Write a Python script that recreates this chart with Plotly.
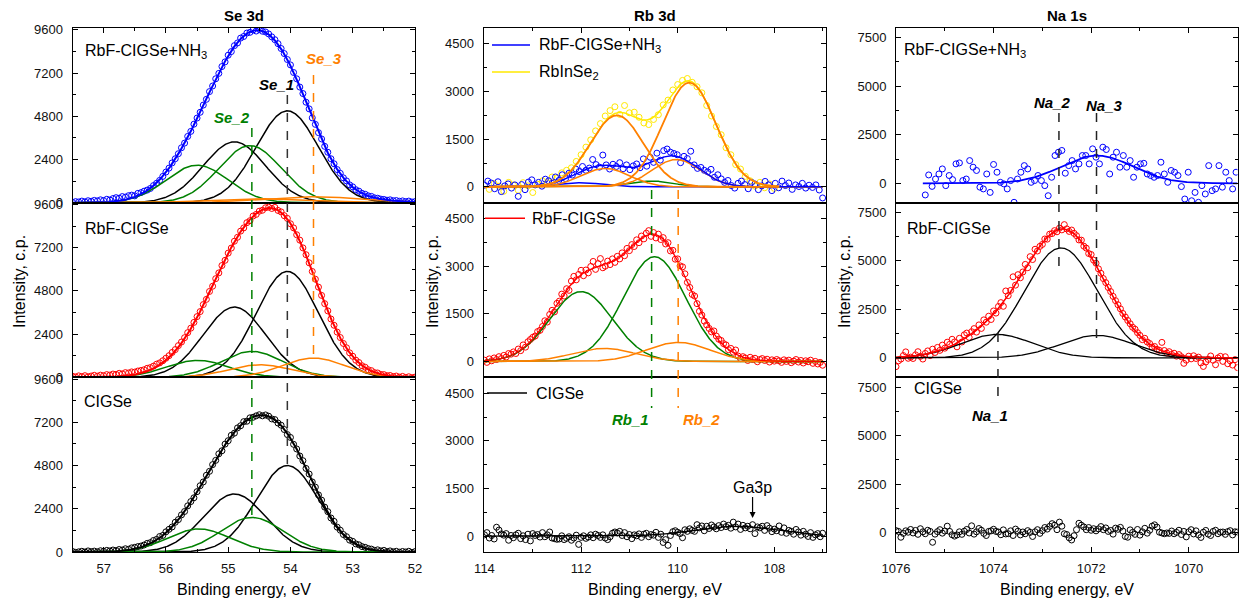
import numpy as np
import plotly.graph_objects as go

# ======================= DATA =======================
# ---- Se 3d : measured counts, binding energy grid 57.50 -> 52.00 eV ----
SE_X_START, SE_X_STEP = 57.5, 0.05
se_nh3_counts = [20, 60, 40, 90, 50, 110, 80, 130, 100, 160,
                 120, 190, 150, 230, 280, 250, 340, 310, 390, 420,
                 380, 520, 560, 640, 700, 790, 950, 1080, 1240, 1460,
                 1700, 1920, 2210, 2440, 2720, 3050, 3310, 3680, 3960, 4360,
                 4700, 5020, 5420, 5740, 6170, 6480, 6880, 7180, 7560, 7820,
                 8190, 8390, 8720, 8870, 9140, 9230, 9420, 9460, 9590, 9530,
                 9620, 9520, 9480, 9370, 9210, 9050, 8830, 8560, 8280, 7950,
                 7650, 7230, 6880, 6420, 6060, 5580, 5210, 4710, 4350, 3890,
                 3540, 3130, 2800, 2440, 2160, 1840, 1630, 1380, 1210, 990,
                 880, 720, 640, 520, 470, 380, 350, 270, 250, 200,
                 180, 140, 160, 110, 120, 80, 100, 60, 90, 40, 60]
se_rbf_counts = [60, 20, 80, 40, 90, 30, 70, 110, 60, 120,
                 90, 150, 120, 180, 160, 220, 190, 260, 240, 300,
                 290, 350, 380, 420, 500, 540, 620, 730, 800, 920,
                 1060, 1200, 1380, 1540, 1760, 1960, 2200, 2480, 2730, 3050,
                 3370, 3650, 4040, 4330, 4770, 5060, 5480, 5800, 6210, 6500,
                 6900, 7180, 7560, 7780, 8120, 8300, 8590, 8700, 8960, 9050,
                 9230, 9280, 9420, 9450, 9380, 9440, 9270, 9190, 8980, 8830,
                 8530, 8300, 7920, 7620, 7190, 6810, 6360, 5880, 5450, 5010,
                 4550, 4090, 3690, 3240, 2890, 2510, 2210, 1880, 1640, 1360,
                 1170, 950, 820, 640, 560, 420, 370, 260, 240, 160,
                 150, 90, 100, 40, 70, 10, 50, -10, 30, -20, 10]
se_cigse_counts = [30, -20, 10, 40, 0, 60, 20, 50, 10, 70,
                   40, 90, 60, 110, 80, 140, 110, 180, 150, 230,
                   260, 300, 330, 390, 480, 520, 640, 700, 860, 920,
                   1120, 1260, 1390, 1650, 1800, 2060, 2250, 2560, 2800, 3010,
                   3350, 3680, 3890, 4260, 4480, 4850, 5090, 5450, 5620, 5990,
                   6180, 6480, 6600, 6890, 7010, 7240, 7260, 7450, 7480, 7560,
                   7620, 7560, 7610, 7540, 7390, 7350, 7160, 7040, 6800, 6520,
                   6360, 5980, 5720, 5330, 5070, 4640, 4330, 3890, 3600, 3170,
                   2880, 2490, 2240, 1890, 1700, 1380, 1210, 970, 850, 660,
                   590, 450, 400, 300, 260, 190, 160, 90, 120, 60,
                   90, 20, 60, 10, 40, -10, 30, 0, 40, -20, 20]
# Se 3d fit components (centre eV, height c.p., sigma eV)
se_nh3_centers = [54.05, 54.90, 54.65, 55.50, 53.63, 54.49]
se_nh3_heights = [5100, 3380, 3170, 2080, 330, 220]
se_nh3_sigmas = [0.5, 0.5, 0.5, 0.5, 0.8, 0.8]
se_rbf_centers = [54.05, 54.90, 54.62, 55.49, 53.63, 54.49]
se_rbf_heights = [5880, 3900, 1440, 940, 1070, 700]
se_rbf_sigmas = [0.5, 0.5, 0.5, 0.5, 0.5, 0.5]
se_cigse_centers = [54.05, 54.90, 54.62, 55.47]
se_cigse_heights = [4800, 3220, 1920, 1280]
se_cigse_sigmas = [0.5, 0.5, 0.5, 0.5]
se_peak_energies = {"Se_1": 54.05, "Se_2": 54.62, "Se_3": 53.63}

# ---- Rb 3d ----
RB_NH3_X_START, RB_NH3_X_STEP = 114.0, 0.07
rb_nh3_counts = [50, 180, 120, -60, 160, -150, 30, 90, -40, 60,
                 -300, 70, -90, 150, 220, 60, 140, 20, 240, 190,
                 110, 310, 200, 380, 260, 430, 370, 560, 480, 640,
                 520, 590, 860, 700, 620, 1000, 690, 560, 710, 640,
                 760, 570, 690, 540, 660, 720, 600, 880, 650, 930,
                 770, 1060, 840, 1140, 1190, 1090, 1050, 1010, 760, 960,
                 890, 1120, 690, 580, 610, 520, 470, 550, 300, 380,
                 250, 140, 200, 40, -40, 110, 180, 70, -60, 140,
                 90, -90, 30, 170, 60, -120, 110, -30, 180, 40,
                 120, -80, 60, 10, 110, -40, 50, -20, 60, -100, -350]
RB_INSE_X_START, RB_INSE_X_STEP = 113.9, 0.1
rb_inse_counts = [-80, 100, 20, -140, 140, 60, -110, 130, 30, -180,
                  80, 190, 130, 310, 270, 440, 520, 600, 800, 1010,
                  1250, 1480, 1760, 1990, 2230, 2400, 2520, 2280, 2560, 2330,
                  2350, 2190, 2010, 1960, 2120, 2270, 2580, 2730, 3050, 3220,
                  3350, 3410, 3290, 3150, 2960, 2560, 2230, 1900, 1640, 1230,
                  1010, 700, 560, 330, 190, 20, 140, -30, 90, -50]
RB_X_START, RB_X_STEP = 114.0, 0.05
rb_rbf_counts = [40, -30, 80, 20, 110, 60, 150, 90, 190, 140,
                 250, 230, 300, 250, 390, 340, 520, 450, 620, 690,
                 760, 800, 940, 980, 1100, 1280, 1240, 1480, 1610, 1560,
                 1830, 1900, 2120, 2060, 2290, 2240, 2530, 2680, 2570, 2740,
                 2870, 2700, 2880, 2790, 2990, 3150, 2900, 3080, 3240, 2950,
                 3000, 3160, 3050, 3230, 3120, 3310, 3230, 3420, 3330, 3560,
                 3490, 3680, 3620, 3830, 3740, 3950, 3860, 4040, 4120, 3940,
                 4060, 3890, 4010, 3840, 3900, 3700, 3740, 3480, 3500, 3220,
                 3230, 3010, 2980, 2760, 2490, 2330, 2110, 2060, 1820, 1580,
                 1460, 1270, 1150, 1040, 930, 960, 800, 700, 660, 560,
                 520, 370, 410, 290, 360, 170, 90, 150, 110, 30,
                 130, 60, 100, -10, 60, 90, 30, 70, -20, 50,
                 10, 60, 20, -30, 50, 0, 40, -40, 10, 60,
                 -20, 30, -50, 20, -10, 40, -60, 0, -80, -30, -120]
rb_cigse_counts = [40, 110, -60, 20, -90, 280, 190, 70, 30, 80,
                   -130, 20, -50, 40, 90, -80, 10, -110, 60, -150,
                   80, 20, 50, -30, 110, -20, 40, 130, -60, -80,
                   -100, -90, 10, -110, -70, -20, -130, -60, 30, -260,
                   -40, 10, -70, -30, 40, -50, 60, 20, -40, 40,
                   -60, -110, -20, 90, 130, 100, 150, 20, 110, -20,
                   50, -80, 40, 10, 70, -40, 60, 90, -20, 50,
                   30, 120, -40, 60, -200, -110, -290, 20, 140, 170,
                   120, 80, -50, 200, 150, 230, 180, 150, 360, 260,
                   320, 170, 310, 240, 350, 290, 230, 330, 270, 380,
                   300, 340, 250, 440, 290, 380, 210, 340, 260, 310,
                   230, 360, 80, 290, 260, 310, 180, 330, 250, 140,
                   220, 170, 320, 120, 260, 90, 180, 150, 60, 210,
                   130, 30, 150, 60, -10, 110, -40, 40, 80, -20, 90]
rb_nh3_centers = [112.0, 110.55, 110.03, 111.50]
rb_nh3_heights = [130, 182, 860, 580]
rb_nh3_sigmas = [0.45, 0.45, 0.5, 0.5]
rb_inse_centers = [109.76, 111.26]
rb_inse_heights = [3280, 2250]
rb_inse_sigmas = [0.55, 0.55]
rb_rbf_centers = [110.48, 112.0, 109.99, 111.52]
rb_rbf_heights = [3300, 2200, 600, 410]
rb_rbf_sigmas = [0.65, 0.65, 0.65, 0.65]
rb_cigse_centers = [108.8]
rb_cigse_heights = [310]
rb_cigse_sigmas = [0.85]
rb_peak_energies = {"Rb_1": 110.54, "Rb_2": 109.99}
ga3p_energy = 108.45

# ---- Na 1s ----
NA_NH3_X_START, NA_NH3_X_STEP = 1075.4, 0.07
na_nh3_counts = [-600, 430, -160, 220, 480, 740, -120, 400, 190, 1000,
                 1050, 140, 220, 1170, 830, 660, -200, -290, 480, -470,
                 970, 570, 50, -30, -290, 140, -980, 220, 570, 910,
                 740, 50, 140, 400, 140, -120, -640, 310, 1430, 1600,
                 1690, 520, 910, 1170, 740, 1000, 1430, 1430, 1000, 1775,
                 1345, 1000, 1860, 1740, 480, 1345, 1600, 830, 1430, 830,
                 1170, 310, 830, 1000, 1030, 480, 400, 310, 400, 1085,
                 480, 50, 660, 570, 400, -170, -810, 570, -900, -470,
                 -980, -120, -550, 910, -380, -290, 910, -200, 570, 140,
                 -290, 570]
NA_X_START, NA_X_STEP = 1076.0, 0.05
na_rbf_counts = [-450, -150, -60, 120, 310, -20, 40, -30, 160, 320,
                 80, -60, 230, 360, 120, 450, 280, 540, 390, 660,
                 500, 810, 700, 960, 820, 570, 1010, 820, 1190, 1280,
                 1060, 1350, 1510, 1330, 1700, 1520, 1960, 1840, 2150, 1980,
                 2420, 2310, 2650, 2850, 2660, 3450, 3210, 3480, 4180, 3750,
                 4290, 4130, 4430, 4820, 4650, 5220, 5070, 5600, 5510, 5750,
                 5850, 6130, 6120, 6380, 6410, 6560, 6500, 6690, 6600, 6870,
                 6650, 6520, 6590, 6420, 6300, 6080, 6070, 5760, 5660, 5380,
                 5330, 5040, 4880, 4590, 4360, 4090, 3880, 3630, 3420, 3170,
                 2950, 2740, 2530, 2290, 2110, 1930, 1760, 1580, 1480, 1300,
                 1160, 940, 1010, 820, 740, 560, 590, 440, 390, 800,
                 380, 250, 320, 180, 240, 90, 170, 60, -280, -120,
                 90, -50, 110, -30, 40, -260, -440, -210, -80, 100,
                 -120, -350, 0, 80, -180, 60, -300, -150, -370, -90, -500]
na_cigse_counts = [100, 60, -240, -40, 90, 20, 160, -20, 110, -90,
                   200, 40, -60, 120, 60, -500, -80, 50, 150, -30,
                   80, 330, 60, -110, -180, -120, 40, -90, 70, 160,
                   -20, 350, -80, 40, 210, 120, -40, -150, 60, 90,
                   170, 60, 30, -110, 140, -70, -60, 90, -150, 180,
                   70, -120, 30, -60, 100, 10, -200, 40, 150, -40,
                   100, 260, 180, 320, 460, 380, 150, 540, 330, -60,
                   -100, -270, -380, -160, 150, 480, 380, 290, 150, 260,
                   120, 200, 90, 190, 310, 150, 240, 60, 110, -80,
                   230, 170, 270, 80, -200, -240, 140, 10, -90, 160,
                   -130, 40, 220, -30, 120, 330, 400, 280, 20, -20,
                   -60, -20, -40, 80, -60, 10, 120, -100, 60, -220,
                   40, 150, -70, 90, -120, -250, 20, 110, -80, -150,
                   60, 120, -60, 20, 30, -90, 50, 100, -120, 40, 30]
na_nh3_centers = [1071.88]
na_nh3_heights = [1430]
na_nh3_sigmas = [0.73]
na_nh3_fit_range = [1075.45, 1069.0]
na_rbf_centers = [1072.62, 1073.93, 1071.88]
na_rbf_heights = [5670, 1210, 1160]
na_rbf_sigmas = [0.75, 0.75, 0.75]
na_peak_energies = {"Na_1": 1073.91, "Na_2": 1072.66, "Na_3": 1071.89}

# ---- axes (tick labels / ranges) ----
col_titles = ["Se 3d", "Rb 3d", "Na 1s"]
x_ranges = [[57.5, 52.0], [114.02, 106.93], [1076.0, 1069.0]]
x_dticks = [1, 2, 2]
y_ranges = [[0, 9700], [-500, 5000], [-1000, 8000]]
y_dticks = [2400, 1500, 2500]

# ======================= STYLE / LAYOUT =======================
W, H = 1244, 608
FONT = "Liberation Sans, Arial, Helvetica, sans-serif"
BLUE, RED, BLACK = "#0000ff", "#ff0000", "#000000"
YELLOW, ORANGE, GREEN = "#ffe800", "#ff8000", "#008000"
se_nh3_colors = [BLACK, BLACK, GREEN, GREEN, ORANGE, ORANGE]
se_rbf_colors = [BLACK, BLACK, GREEN, GREEN, ORANGE, ORANGE]
se_cigse_colors = [BLACK, BLACK, GREEN, GREEN]
rb_nh3_colors = [BLUE, GREEN, ORANGE, ORANGE]
rb_inse_colors = [ORANGE, ORANGE]
rb_rbf_colors = [GREEN, GREEN, ORANGE, ORANGE]
na_rbf_colors = [BLACK, BLACK, BLACK]

COLS_PX = [(72.5, 415.0), (483.5, 826.0), (896.0, 1237.5)]
ROWS_PX = [(28.0, 202.7), (202.7, 377.3), (377.3, 552.0)]


def fx(p):
    return p / W


def fy(p):
    return 1 - p / H


def gauss(x, c, h, s):
    return h * np.exp(-(x - c) ** 2 / (2 * s ** 2))


fig = go.Figure()
layout = dict(width=W, height=H, margin=dict(l=0, r=0, t=0, b=0, pad=0, autoexpand=False),
              paper_bgcolor="white", plot_bgcolor="white", showlegend=False,
              font=dict(family=FONT, size=13, color="#111"))

for c in range(3):
    for r in range(3):
        k = c * 3 + r + 1
        xa = dict(domain=[fx(COLS_PX[c][0]), fx(COLS_PX[c][1])], range=x_ranges[c],
                  anchor=f"y{k}", showline=True, linecolor="black", linewidth=1,
                  mirror=True, showgrid=False, zeroline=False, automargin=False,
                  tick0=0, dtick=x_dticks[c], tickcolor="black")
        if r == 0:
            xa.update(side="top", ticks="inside", ticklen=5, showticklabels=False,
                      minor=dict(ticks="inside", ticklen=3, tick0=0, dtick=x_dticks[c] / 2,
                                 tickcolor="black"))
        elif r == 1:
            xa.update(ticks="", showticklabels=False)
        else:
            xa.update(ticks="inside", ticklen=5, showticklabels=True,
                      tickfont=dict(family=FONT, size=13, color="#111"),
                      ticklabelstandoff=4,
                      minor=dict(ticks="inside", ticklen=3, tick0=0, dtick=x_dticks[c] / 2,
                                 tickcolor="black"))
        ya = dict(domain=[fy(ROWS_PX[r][1]), fy(ROWS_PX[r][0])], range=y_ranges[c],
                  anchor=f"x{k}", showline=True, linecolor="black", linewidth=1,
                  mirror="ticks", ticks="inside", ticklen=5, tickcolor="black",
                  tick0=0, dtick=y_dticks[c], showgrid=False, zeroline=False,
                  automargin=False,
                  tickfont=dict(family=FONT, size=13, color="#111"),
                  ticklabelstandoff=6,
                  minor=dict(ticks="inside", ticklen=3, tick0=0, dtick=y_dticks[c] / 2,
                             tickcolor="black"))
        layout["xaxis" if k == 1 else f"xaxis{k}"] = xa
        layout["yaxis" if k == 1 else f"yaxis{k}"] = ya


def axref(k):
    return ("x" if k == 1 else f"x{k}"), ("y" if k == 1 else f"y{k}")


def add_points(k, x0, step, counts, color):
    xr, yr = axref(k)
    x = x0 - step * np.arange(len(counts))
    fig.add_trace(go.Scatter(x=x, y=counts, mode="markers", xaxis=xr, yaxis=yr,
                             marker=dict(symbol="circle-open", size=6, color=color,
                                         line=dict(width=1, color=color)),
                             hoverinfo="skip"))


def add_fit(k, xlim, centers, heights, sigmas, comp_colors, env_color,
            env_width=1.8, comp_width=1.5, draw_env=True):
    xr, yr = axref(k)
    xs = np.linspace(xlim[0], xlim[1], 700)
    total = np.zeros_like(xs)
    for cc, hh, ss, col in zip(centers, heights, sigmas, comp_colors or [None] * len(centers)):
        g = gauss(xs, cc, hh, ss)
        total += g
        if comp_colors:
            fig.add_trace(go.Scatter(x=xs, y=g, mode="lines", xaxis=xr, yaxis=yr,
                                     line=dict(color=col, width=comp_width), hoverinfo="skip"))
    if draw_env:
        fig.add_trace(go.Scatter(x=xs, y=total, mode="lines", xaxis=xr, yaxis=yr,
                                 line=dict(color=env_color, width=env_width), hoverinfo="skip"))


# ---- Se column (axes 1..3) ----
add_points(1, SE_X_START, SE_X_STEP, se_nh3_counts, BLUE)
add_fit(1, x_ranges[0], se_nh3_centers, se_nh3_heights, se_nh3_sigmas, se_nh3_colors, BLUE, 2.0)
add_points(2, SE_X_START, SE_X_STEP, se_rbf_counts, RED)
add_fit(2, x_ranges[0], se_rbf_centers, se_rbf_heights, se_rbf_sigmas, se_rbf_colors, RED, 2.0)
add_points(3, SE_X_START, SE_X_STEP, se_cigse_counts, BLACK)
add_fit(3, x_ranges[0], se_cigse_centers, se_cigse_heights, se_cigse_sigmas, se_cigse_colors, BLACK, 2.0)

# ---- Rb column (axes 4..6) ----
add_points(4, RB_INSE_X_START, RB_INSE_X_STEP, rb_inse_counts, YELLOW)
add_points(4, RB_NH3_X_START, RB_NH3_X_STEP, rb_nh3_counts, BLUE)
add_fit(4, [114.0, 107.0], rb_nh3_centers, rb_nh3_heights, rb_nh3_sigmas, rb_nh3_colors, BLUE, 1.5)
add_fit(4, [114.0, 107.9], rb_inse_centers, rb_inse_heights, rb_inse_sigmas, None, YELLOW, 1.5)
add_fit(4, [114.0, 107.9], rb_inse_centers, rb_inse_heights, rb_inse_sigmas, rb_inse_colors, ORANGE,
        draw_env=False, comp_width=1.8)
add_points(5, RB_X_START, RB_X_STEP, rb_rbf_counts, RED)
add_fit(5, [114.0, 107.0], rb_rbf_centers, rb_rbf_heights, rb_rbf_sigmas, rb_rbf_colors, RED, 1.3)
add_points(6, RB_X_START, RB_X_STEP, rb_cigse_counts, BLACK)
add_fit(6, [114.0, 107.0], rb_cigse_centers, rb_cigse_heights, rb_cigse_sigmas, None, BLACK, 1.3)

# ---- Na column (axes 7..9) ----
add_points(7, NA_NH3_X_START, NA_NH3_X_STEP, na_nh3_counts, BLUE)
add_fit(7, na_nh3_fit_range, na_nh3_centers, na_nh3_heights, na_nh3_sigmas, None, BLUE, 1.8)
add_points(8, NA_X_START, NA_X_STEP, na_rbf_counts, RED)
add_fit(8, [1076.0, 1069.0], na_rbf_centers, na_rbf_heights, na_rbf_sigmas, na_rbf_colors, RED, 1.6,
        comp_width=1.3)
add_points(9, NA_X_START, NA_X_STEP, na_cigse_counts, BLACK)

# ======================= shapes / annotations =======================
shapes = []
annotations = []


def vdash(xref, xval, y0px, y1px, color):
    shapes.append(dict(type="line", xref=xref, yref="paper", x0=xval, x1=xval,
                       y0=fy(y0px), y1=fy(y1px), line=dict(color=color, width=1.5, dash="dash")))


def label(xpx, ypx, txt, size=16, color="black", xanchor="left", angle=0):
    annotations.append(dict(x=fx(xpx), y=fy(ypx), xref="paper", yref="paper", text=txt,
                            showarrow=False, xanchor=xanchor, yanchor="middle",
                            textangle=angle, font=dict(family=FONT, size=size, color=color)))


# peak position markers
vdash("x3", se_peak_energies["Se_2"], 128, 518, GREEN)
vdash("x3", se_peak_energies["Se_1"], 95, 466, "#333333")
vdash("x3", se_peak_energies["Se_3"], 75, 358, ORANGE)
vdash("x6", rb_peak_energies["Rb_1"], 190, 408, GREEN)
vdash("x6", rb_peak_energies["Rb_2"], 190, 408, ORANGE)
vdash("x9", na_peak_energies["Na_2"], 113, 270, "#222222")
vdash("x9", na_peak_energies["Na_3"], 113, 340, "#222222")
vdash("x9", na_peak_energies["Na_1"], 333, 401, "#222222")

label(276.7, 85, "<b><i>Se_1</i></b>", 15, BLACK, "center")
label(232.3, 118, "<b><i>Se_2</i></b>", 15, GREEN, "center")
label(324.3, 59, "<b><i>Se_3</i></b>", 15, ORANGE, "center")
label(630.7, 419.5, "<b><i>Rb_1</i></b>", 15, GREEN, "center")
label(701.7, 419.5, "<b><i>Rb_2</i></b>", 15, ORANGE, "center")
label(1052.7, 102, "<b><i>Na_2</i></b>", 15, BLACK, "center")
label(1104.0, 105, "<b><i>Na_3</i></b>", 15, BLACK, "center")
label(990.0, 415, "<b><i>Na_1</i></b>", 15, BLACK, "center")

# sample names
label(82.7, 52, "RbF-CIGSe+NH<sub>3</sub>")
label(83.0, 228, "RbF-CIGSe")
label(81.7, 401, "CIGSe")
label(901.7, 51, "RbF-CIGSe+NH<sub>3</sub>")
label(905.0, 228, "RbF-CIGSe")
label(911.7, 388, "CIGSe")

# Rb legend
for (x0, x1, ypx, col, txt, tx) in [(492, 530, 45, BLUE, "RbF-CIGSe+NH<sub>3</sub>", 536.5),
                                     (492, 530, 72, YELLOW, "RbInSe<sub>2</sub>", 536.5),
                                     (485, 525, 218.3, RED, "RbF-CIGSe", 530),
                                     (487, 527, 393, BLACK, "CIGSe", 534)]:
    shapes.append(dict(type="line", xref="paper", yref="paper", x0=fx(x0), x1=fx(x1),
                       y0=fy(ypx), y1=fy(ypx), line=dict(color=col, width=1.5)))
    label(tx, ypx, txt)

# column titles and axis titles
for c in range(3):
    cx = (COLS_PX[c][0] + COLS_PX[c][1]) / 2
    label(cx, 15, f"<b>{col_titles[c]}</b>", 15, BLACK, "center")
    label(cx, 589, "Binding energy, eV", 16, BLACK, "center")
label(19, 282, "Intensity, c.p.", 16, BLACK, "center", -90)
label(432, 282, "Intensity, c.p.", 16, BLACK, "center", -90)
label(844, 282, "Intensity, c.p.", 16, BLACK, "center", -90)

# Ga3p arrow
annotations.append(dict(x=ga3p_energy, y=fy(518), xref="x6", yref="paper", ax=0, ay=-31,
                        text="Ga3p", showarrow=True, arrowhead=2, arrowsize=1, arrowwidth=1.2,
                        arrowcolor="black", font=dict(family=FONT, size=16, color="black")))

layout["shapes"] = shapes
layout["annotations"] = annotations
fig.update_layout(**layout)
fig.write_html("out.html", config={"displayModeBar": False},
               post_script="document.body.style.margin='0';document.body.style.overflow='hidden';")
